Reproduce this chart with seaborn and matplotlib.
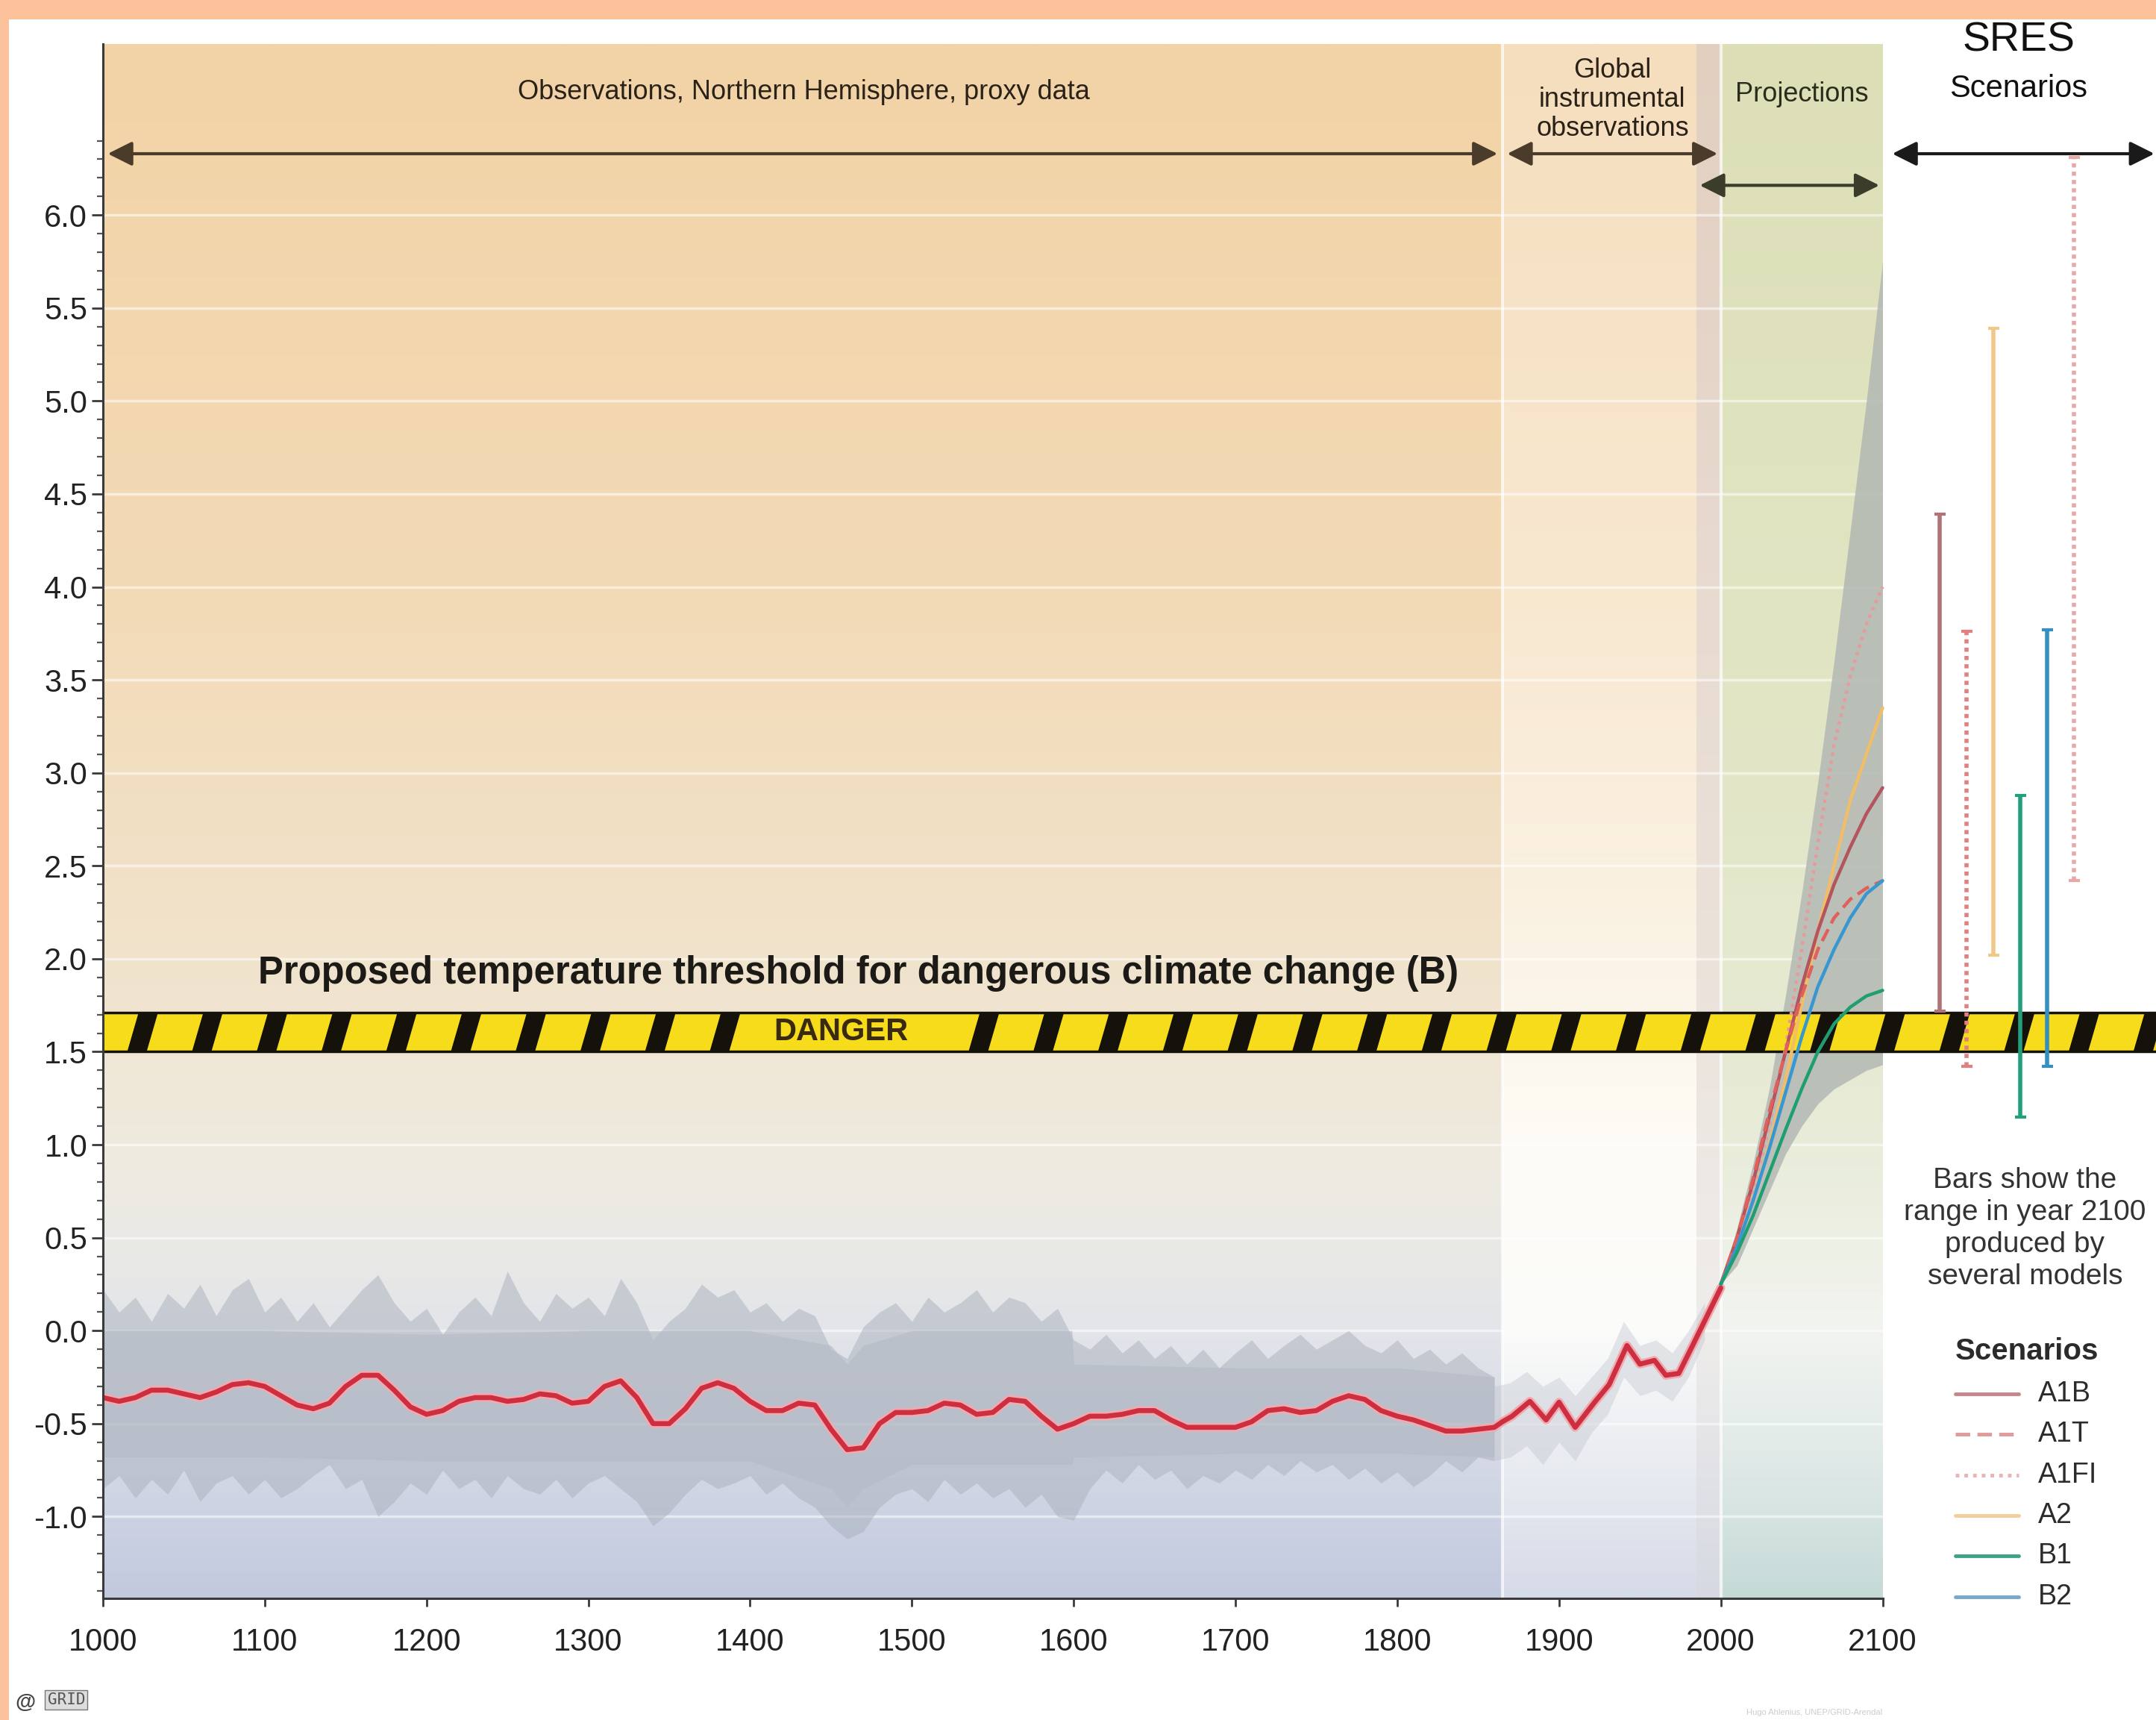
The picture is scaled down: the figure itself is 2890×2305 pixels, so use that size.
import numpy as np
import pandas as pd
import matplotlib
matplotlib.use("Agg")
import matplotlib.pyplot as plt
import matplotlib.colors as mcolors
import matplotlib.patheffects as pe
from matplotlib.patches import Rectangle, Polygon
import seaborn as sns

sns.set_theme(style="white")
plt.rcParams['font.family'] = ['Liberation Sans', 'DejaVu Sans']

# ---------------- data ----------------
# Northern Hemisphere proxy reconstruction (smoothed red line), 1000-1860
recon_years = list(range(1000, 1861, 10))
recon_temp = [-0.36, -0.38, -0.36, -0.32, -0.32, -0.34, -0.36, -0.33, -0.29, -0.28,
              -0.30, -0.35, -0.40, -0.42, -0.39, -0.30, -0.24, -0.24, -0.32, -0.41,
              -0.45, -0.43, -0.38, -0.36, -0.36, -0.38, -0.37, -0.34, -0.35, -0.39,
              -0.38, -0.30, -0.27, -0.36, -0.50, -0.50, -0.42, -0.31, -0.28, -0.31,
              -0.38, -0.43, -0.43, -0.39, -0.40, -0.53, -0.64, -0.63, -0.50, -0.44,
              -0.44, -0.43, -0.39, -0.40, -0.45, -0.44, -0.37, -0.38, -0.46, -0.53,
              -0.50, -0.46, -0.46, -0.45, -0.43, -0.43, -0.48, -0.52, -0.52, -0.52,
              -0.52, -0.49, -0.43, -0.42, -0.44, -0.43, -0.38, -0.35, -0.37, -0.43,
              -0.46, -0.48, -0.51, -0.54, -0.54, -0.53, -0.52]

# global instrumental record (red line), 1865-2000
instr_years = [1865, 1871, 1882, 1892, 1900, 1910, 1922, 1931, 1942, 1950,
               1959, 1966, 1974, 1982, 1991, 2000]
instr_temp = [-0.49, -0.46, -0.38, -0.48, -0.385, -0.52, -0.385, -0.29, -0.08, -0.18,
              -0.16, -0.24, -0.23, -0.09, 0.07, 0.23]

# annual proxy data envelope (gray spikes), 1000-1860
spike_hi = [0.22, 0.10, 0.18, 0.05, 0.20, 0.12, 0.25, 0.08, 0.22, 0.28,
            0.10, 0.18, 0.05, 0.15, 0.02, 0.12, 0.22, 0.30, 0.15, 0.05,
            0.12, -0.02, 0.10, 0.18, 0.08, 0.32, 0.15, 0.05, 0.20, 0.12,
            0.18, 0.08, 0.28, 0.15, -0.05, 0.05, 0.12, 0.25, 0.18, 0.22,
            0.10, 0.15, 0.05, 0.12, 0.08, -0.10, -0.15, 0.02, 0.10, 0.15,
            0.05, 0.18, 0.10, 0.15, 0.22, 0.10, 0.18, 0.15, 0.05, 0.12,
            -0.05, -0.10, -0.02, -0.12, -0.05, -0.15, -0.08, -0.18, -0.10, -0.20,
            -0.12, -0.05, -0.15, -0.08, -0.02, -0.10, -0.05, 0.00, -0.08, -0.12,
            -0.05, -0.15, -0.10, -0.18, -0.12, -0.20, -0.25]
spike_lo = [-0.85, -0.78, -0.90, -0.80, -0.88, -0.75, -0.92, -0.82, -0.78, -0.88,
            -0.80, -0.90, -0.85, -0.78, -0.72, -0.85, -0.80, -1.00, -0.92, -0.82,
            -0.88, -0.75, -0.85, -0.80, -0.90, -0.78, -0.85, -0.88, -0.80, -0.90,
            -0.82, -0.78, -0.85, -0.92, -1.05, -0.98, -0.88, -0.80, -0.85, -0.82,
            -0.78, -0.88, -0.82, -0.90, -0.95, -1.05, -1.12, -1.08, -0.95, -0.88,
            -0.85, -0.92, -0.80, -0.88, -0.82, -0.90, -0.85, -0.95, -0.88, -1.00,
            -1.02, -0.85, -0.75, -0.82, -0.72, -0.80, -0.75, -0.85, -0.78, -0.82,
            -0.75, -0.80, -0.72, -0.78, -0.70, -0.76, -0.72, -0.80, -0.74, -0.82,
            -0.76, -0.84, -0.78, -0.70, -0.76, -0.68, -0.70]

# uncertainty band of the reconstruction
band_years = [1000, 1100, 1200, 1300, 1400, 1450, 1460, 1470, 1500, 1599, 1600, 1700, 1800, 1860]
band_hi = [0.0, 0.0, -0.02, 0.0, 0.0, -0.08, -0.18, -0.08, 0.0, 0.0, -0.18, -0.20, -0.20, -0.25]
band_lo = [-0.68, -0.68, -0.70, -0.70, -0.70, -0.85, -0.95, -0.85, -0.72, -0.72, -0.68, -0.66, -0.66, -0.68]

# faint annual spread of the instrumental record
instr_band_years = [1860, 1870, 1880, 1890, 1900, 1910, 1920, 1930, 1940, 1950, 1960, 1970, 1980, 1990]
instr_band_hi = [-0.30, -0.28, -0.22, -0.30, -0.25, -0.35, -0.25, -0.15, 0.05, -0.08, -0.05, -0.12, 0.00, 0.15]
instr_band_lo = [-0.70, -0.68, -0.62, -0.72, -0.60, -0.70, -0.55, -0.45, -0.25, -0.35, -0.32, -0.38, -0.25, -0.05]

# projections 2000-2100
proj_years = [2000, 2010, 2020, 2030, 2040, 2050, 2060, 2070, 2080, 2090, 2100]
env_hi = [0.25, 0.55, 0.90, 1.30, 1.80, 2.35, 2.95, 3.60, 4.30, 5.00, 5.75]
env_lo = [0.25, 0.35, 0.55, 0.75, 0.95, 1.10, 1.22, 1.30, 1.35, 1.40, 1.43]

scenarios = ['A1B', 'A1T', 'A1FI', 'A2', 'B1', 'B2']
proj_A1B = [0.25, 0.50, 0.80, 1.15, 1.50, 1.85, 2.15, 2.40, 2.60, 2.78, 2.92]
proj_A1T = [0.25, 0.50, 0.82, 1.18, 1.50, 1.80, 2.05, 2.22, 2.32, 2.38, 2.42]
proj_A1FI = [0.25, 0.48, 0.76, 1.10, 1.52, 2.05, 2.62, 3.15, 3.52, 3.80, 4.00]
proj_A2 = [0.25, 0.45, 0.70, 1.00, 1.35, 1.75, 2.15, 2.50, 2.85, 3.10, 3.35]
proj_B1 = [0.25, 0.42, 0.62, 0.85, 1.08, 1.30, 1.50, 1.65, 1.74, 1.80, 1.83]
proj_B2 = [0.25, 0.45, 0.70, 0.98, 1.28, 1.58, 1.85, 2.05, 2.22, 2.35, 2.42]

# model range in 2100 (bars)
bar_names = ['A1B', 'A1T', 'A2', 'B1', 'B2', 'A1FI']
bar_lo = [1.72, 1.42, 2.02, 1.15, 1.42, 2.42]
bar_hi = [4.39, 3.76, 5.39, 2.88, 3.77, 6.31]

y_ticks = [-1.0, -0.5, 0.0, 0.5, 1.0, 1.5, 2.0, 2.5, 3.0, 3.5, 4.0, 4.5, 5.0, 5.5, 6.0]
y_labels = ['-1.0', '-0.5', '0.0', '0.5', '1.0', '1.5', '2.0', '2.5', '3.0', '3.5',
            '4.0', '4.5', '5.0', '5.5', '6.0']
x_ticks = [1000, 1100, 1200, 1300, 1400, 1500, 1600, 1700, 1800, 1900, 2000, 2100]

# ---------------- styles ----------------
SC_COLOR = {'A1B': '#b4545c', 'A1T': '#e0605e', 'A1FI': '#e89a9a',
            'A2': '#f0bd68', 'B1': '#1f9e72', 'B2': '#3897d0'}
SC_STYLE = {'A1B': '-', 'A1T': (0, (4, 2)), 'A1FI': (0, (1, 1.4)),
            'A2': '-', 'B1': '-', 'B2': '-'}
BAR_COLOR = {'A1B': '#b07478', 'A1T': '#e28080', 'A1FI': '#e8a8a8',
             'A2': '#f0c888', 'B1': '#22a07e', 'B2': '#3490c0'}
BAR_STYLE = {'A1B': '-', 'A1T': (0, (1, 1)), 'A1FI': (0, (1, 1)),
             'A2': '-', 'B1': '-', 'B2': '-'}
LEG_COLOR = {'A1B': '#c8848a', 'A1T': '#e09a9a', 'A1FI': '#e8b4b4',
             'A2': '#f2cf98', 'B1': '#3aa488', 'B2': '#78a8cc'}

Y_BOT, Y_TOP = -1.44, 6.92
X_RIGHT = 2269
TEXT = '#2a2218'

fig = plt.figure(figsize=(28.9, 23.05), dpi=100)
fig.patch.set_facecolor('white')
ax = fig.add_axes([0.04775, 0.0707, 0.95225, 0.9037])
ax.set_facecolor('white')


def gradient(x0, x1, stops):
    ys = np.linspace(Y_BOT, Y_TOP, 400)
    sy = [s[0] for s in stops][::-1]
    rgb = [mcolors.to_rgb(s[1]) for s in stops][::-1]
    img = np.zeros((len(ys), 1, 3))
    for c in range(3):
        img[:, 0, c] = np.interp(ys, sy, [v[c] for v in rgb])
    ax.imshow(img, extent=(x0, x1, Y_BOT, Y_TOP), origin='lower',
              aspect='auto', interpolation='bilinear', zorder=0)


gradient(1000, 1865, [(6.92, '#f2d3a6'), (4.0, '#f3dab6'), (2.0, '#f1e3cc'),
                      (0.8, '#eeebe2'), (0.0, '#e3e5ea'), (-0.8, '#d2d7e4'),
                      (-1.44, '#c2c9df')])
gradient(1865, 1985, [(6.92, '#f5debd'), (4.0, '#f8e8d0'), (2.0, '#fbf3e5'),
                      (1.0, '#fefcf6'), (0.0, '#fbfbfa'), (-0.8, '#e7eaf0'),
                      (-1.44, '#d6dbe8')])
gradient(1985, 2000, [(6.92, '#e2cfc0'), (2.0, '#ebe2da'), (0.0, '#efedeb'),
                      (-1.44, '#d6d9e2')])
gradient(2000, 2100, [(6.92, '#dcdfb6'), (3.0, '#e2e6c6'), (1.0, '#e8ecd8'),
                      (0.0, '#f2f4f0'), (-0.8, '#dde8e6'), (-1.44, '#c5dad7')])

# faint white grid lines and region separators
for yv in np.arange(-1.0, 6.01, 0.5):
    ax.plot([1000, 2100], [yv, yv], color='white', lw=2.5, alpha=0.55, zorder=1)
for xv in [1865, 2000]:
    ax.plot([xv, xv], [Y_BOT, Y_TOP], color='white', lw=3, alpha=0.7, zorder=1)

# proxy data spread
ax.fill_between(recon_years, spike_lo, spike_hi, color='#a9b0bc', alpha=0.5, lw=0, zorder=2)
ax.fill_between(band_years, band_lo, band_hi, color='#b6bcc7', alpha=0.65, lw=0, zorder=2)
ax.fill_between(instr_band_years, instr_band_lo, instr_band_hi, color='#b8bec8', alpha=0.35,
                lw=0, zorder=2)

# projection envelope
ax.fill_between(proj_years, env_lo, env_hi, color='#b3b8b4', alpha=0.85, lw=0, zorder=2)

# observed red line (reconstruction + instrumental)
obs = pd.DataFrame({'year': recon_years + instr_years, 'temp': recon_temp + instr_temp})
sns.lineplot(data=obs, x='year', y='temp', ax=ax, color='#cc3040', lw=4.8,
             sort=False, estimator=None, zorder=6)
ax.lines[-1].set_path_effects([pe.Stroke(linewidth=8.5, foreground='#f2aab0'), pe.Normal()])
ax.lines[-1].set_solid_capstyle('round')
ax.lines[-1].set_solid_joinstyle('round')

# danger band
band_rect = Rectangle((1000, 1.5), X_RIGHT - 1000, 0.21, facecolor='#f7dc1c',
                      edgecolor='none', zorder=4, clip_on=False)
ax.add_patch(band_rect)
period, black_w, slant = 40, 12, 7
for k in range(40):
    x0 = 1015 + k * period
    if x0 > X_RIGHT:
        break
    if 1390 <= x0 <= 1510:
        continue
    stripe = Polygon([(x0, 1.5), (x0 + black_w, 1.5), (x0 + black_w + slant, 1.71),
                      (x0 + slant, 1.71)], closed=True, facecolor='#15120c',
                     edgecolor='none', zorder=4)
    ax.add_patch(stripe)
    stripe.set_clip_path(band_rect)
for yv in [1.5, 1.71]:
    ax.plot([1000, X_RIGHT], [yv, yv], color='#15120c', lw=2.5, zorder=4, clip_on=False)
ax.text(1456, 1.607, 'DANGER', ha='center', va='center', fontsize=30, weight='bold',
        color='#3a2b10', zorder=5)
ax.text(1467, 1.92, 'Proposed temperature threshold for dangerous climate change (B)',
        ha='center', va='center', fontsize=36.5, weight='bold', color='#1c1a16', zorder=5)

# scenario lines
proj = {'A1B': proj_A1B, 'A1T': proj_A1T, 'A1FI': proj_A1FI,
        'A2': proj_A2, 'B1': proj_B1, 'B2': proj_B2}
for name in ['A1FI', 'A2', 'A1B', 'A1T', 'B2', 'B1']:
    sns.lineplot(x=proj_years, y=proj[name], ax=ax, color=SC_COLOR[name],
                 lw=3.2, linestyle=SC_STYLE[name], zorder=7)

# 2100 range bars
for i, name in enumerate(bar_names):
    bx = 2135.5 + i * 16.6
    ax.vlines(bx, bar_lo[i], bar_hi[i], colors=BAR_COLOR[name], linestyles=BAR_STYLE[name],
              lw=4, zorder=7)
    ax.hlines([bar_lo[i], bar_hi[i]], bx - 3.5, bx + 3.5, colors=BAR_COLOR[name], lw=3, zorder=7)

ax.text(2188, 0.55, 'Bars show the\nrange in year 2100\nproduced by\nseveral models',
        ha='center', va='center', fontsize=28, color='#333333', linespacing=1.25, zorder=5)

# legend
ax.text(2189, -0.11, 'Scenarios', ha='center', va='center', fontsize=29,
        weight='bold', color='#2b2b2b', zorder=5)
for i, name in enumerate(scenarios):
    ly = -0.34 - i * 0.218
    ax.plot([2145, 2184], [ly, ly], color=LEG_COLOR[name], lw=3.5,
            linestyle=SC_STYLE[name], zorder=5, clip_on=False)
    ax.text(2196, ly, name, ha='left', va='center', fontsize=27, color='#2b2b2b',
            zorder=5, clip_on=False)

# header texts and arrows
ax.text(1433, 6.66, 'Observations, Northern Hemisphere, proxy data', ha='center',
        va='center', fontsize=26, color=TEXT)
ax.text(1933, 6.62, 'Global\ninstrumental\nobservations', ha='center', va='center',
        fontsize=26, color=TEXT, linespacing=1.15)
ax.text(2050, 6.65, 'Projections', ha='center', va='center', fontsize=26, color='#2c2c1c')
ax.text(2184, 6.94, 'SRES', ha='center', va='center', fontsize=40, color='#111111',
        clip_on=False)
ax.text(2184, 6.68, 'Scenarios', ha='center', va='center', fontsize=30, color='#111111')


def arrow(x0, x1, y, color):
    ax.annotate('', xy=(x1, y), xytext=(x0, y), annotation_clip=False,
                arrowprops=dict(arrowstyle='<|-|>,head_length=0.9,head_width=0.45',
                                color=color, lw=3, shrinkA=0, shrinkB=0,
                                mutation_scale=22), zorder=6)


arrow(1003, 1862, 6.33, '#4a3b2a')
arrow(1868, 1998, 6.33, '#4a3b2a')
arrow(1987, 2098, 6.16, '#3c3c2a')
arrow(2106, 2268, 6.33, '#1a1a1a')

# axes, ticks
ax.set_xlim(1000, X_RIGHT)
ax.set_ylim(Y_BOT, Y_TOP)
ax.set_xticks(x_ticks)
ax.set_xticklabels([str(v) for v in x_ticks])
ax.set_yticks(y_ticks)
ax.set_yticklabels(y_labels)
ax.set_yticks(np.arange(-1.4, 6.45, 0.1), minor=True)
ax.set_xlabel('')
ax.set_ylabel('')
ax.grid(False)
for side in ['top', 'right']:
    ax.spines[side].set_visible(False)
ax.spines['bottom'].set_bounds(1000, 2100)
for side in ['left', 'bottom']:
    ax.spines[side].set_color('#3a3a3a')
    ax.spines[side].set_linewidth(2.2)
    ax.spines[side].set_zorder(8)
ax.tick_params(axis='y', which='major', direction='out', length=11, width=2,
               labelsize=30, pad=4, color='#3a3a3a', labelcolor='#222222', left=True)
ax.tick_params(axis='y', which='minor', direction='out', length=6, width=1.6,
               color='#555555', left=True)
ax.tick_params(axis='x', which='major', direction='out', length=8, width=2,
               labelsize=30, pad=20, color='#3a3a3a', labelcolor='#222222', bottom=True)

# frame border and credits
fig.patches.append(Rectangle((0, 0.9887), 1, 0.0113, transform=fig.transFigure,
                             facecolor='#fcc29c', edgecolor='none', zorder=-1))
fig.patches.append(Rectangle((0, 0), 0.0042, 1, transform=fig.transFigure,
                             facecolor='#fcc29c', edgecolor='none', zorder=-1))
fig.text(0.007, 0.007, '@', fontsize=20, weight='bold', color='#444444')
fig.text(0.022, 0.009, 'GRID', fontsize=15, color='#555555', family='DejaVu Sans Mono',
         bbox=dict(boxstyle='square,pad=0.15', facecolor='#dddddd', edgecolor='#777777'))
fig.text(0.81, 0.003, 'Hugo Ahlenius, UNEP/GRID-Arendal', fontsize=8, color='#cccccc')

fig.savefig('out.png', dpi=100, facecolor='white')
